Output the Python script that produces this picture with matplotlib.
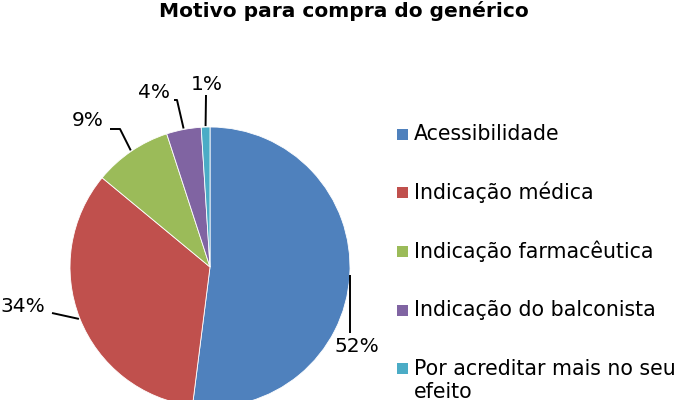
import numpy as np
import matplotlib
matplotlib.use("Agg")
import matplotlib.pyplot as plt
from matplotlib.patches import Rectangle

categories = ["Acessibilidade", "Indicação médica", "Indicação farmacêutica",
              "Indicação do balconista", "Por acreditar mais no seu\nefeito"]
values = [52, 34, 9, 4, 1]
labels = ["52%", "34%", "9%", "4%", "1%"]
colors = ["#4F81BD", "#C0504D", "#9BBB59", "#8064A2", "#4BACC6"]

W, H = 683, 400
fig = plt.figure(figsize=(W / 100, H / 100), dpi=100)
ax = fig.add_axes([0, 0, 1, 1])

cx, cy, r = 210, H - 267, 140
wedges, _ = ax.pie(values, colors=colors, startangle=90, counterclock=False,
                   center=(cx, cy), radius=r, frame=True,
                   wedgeprops=dict(edgecolor="white", linewidth=0.6))
ax.set_xlim(0, W)
ax.set_ylim(0, H)
ax.set_aspect("equal")
ax.axis("off")

FS = 14.5
LW = 1.4

def Y(py):
    return H - py

# leader lines: start near wedge edge (from wedge angle), end at label (layout)
layout = {
    "52%": dict(path=[(350, 275), (350, 333)], text=(357, 347)),
    "34%": dict(path=[None, (52, 313)], text=(23, 306)),
    "9%": dict(path=[None, (120, 129), (110, 129)], text=(88, 120)),
    "4%": dict(path=[None, (177, 100), (174, 100)], text=(154, 92)),
    "1%": dict(path=[None, (206, 95)], text=(207, 85)),
}
for w, lab in zip(wedges, labels):
    ang = np.deg2rad((w.theta1 + w.theta2) / 2)
    ex, ey = cx + (r + 1) * np.cos(ang), cy + (r + 1) * np.sin(ang)
    L = layout[lab]
    pts = []
    for p in L["path"]:
        if p is None:
            pts.append((ex, ey))
        else:
            pts.append((p[0], Y(p[1])))
    xs, ys = zip(*pts)
    ax.plot(xs, ys, color="black", lw=LW, solid_capstyle="butt")
    tx, ty = L["text"]
    ax.text(tx, Y(ty), lab, fontsize=FS, ha="center", va="center")

# legend drawn manually
lx, ly0, step, sq = 397, 134, 58.7, 11
for i, (cat, col) in enumerate(zip(categories, colors)):
    y = ly0 + i * step
    ax.add_patch(Rectangle((lx, Y(y) - sq / 2), sq, sq, facecolor=col, edgecolor="none"))
    for k, line in enumerate(cat.split("\n")):
        ax.text(lx + 17, Y(y + k * 23), line, fontsize=14.8, ha="left", va="center")

fig.text(344 / W, 1 - 11 / H, "Motivo para compra do genérico", fontsize=14.5,
         fontweight="bold", ha="center", va="center")

fig.savefig("out.png", dpi=100, facecolor="white")
